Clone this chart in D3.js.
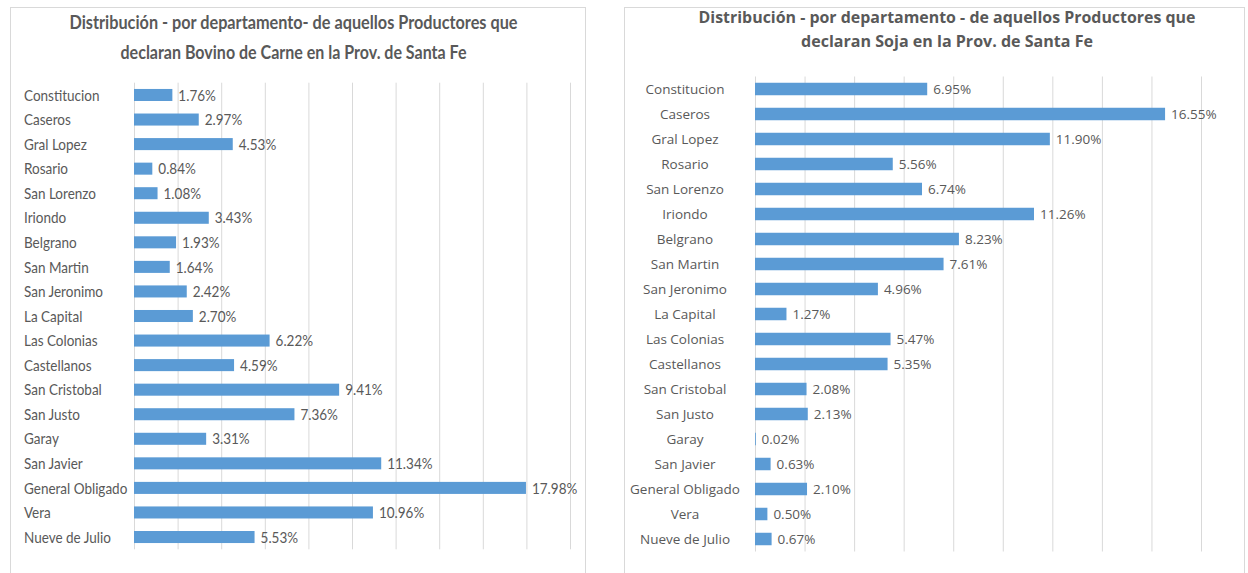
<!DOCTYPE html>
<html><head><meta charset="utf-8">
<script src="https://cdn.jsdelivr.net/npm/d3@7"></script>
<style>body{margin:0;background:#fff}svg{display:block}</style>
</head><body>
<svg id="c" width="1248" height="573"></svg>
<script>
const departamentos = ["Constitucion","Caseros","Gral Lopez","Rosario","San Lorenzo","Iriondo","Belgrano","San Martin","San Jeronimo","La Capital","Las Colonias","Castellanos","San Cristobal","San Justo","Garay","San Javier","General Obligado","Vera","Nueve de Julio"];
const bovinoCarne = [1.76,2.97,4.53,0.84,1.08,3.43,1.93,1.64,2.42,2.70,6.22,4.59,9.41,7.36,3.31,11.34,17.98,10.96,5.53];
const soja = [6.95,16.55,11.90,5.56,6.74,11.26,8.23,7.61,4.96,1.27,5.47,5.35,2.08,2.13,0.02,0.63,2.10,0.50,0.67];
const ticksBovino = [0,2,4,6,8,10,12,14,16,18,20];
const ticksSoja = [0,2,4,6,8,10,12,14,16,18];
const titleBovino = ["Distribución - por departamento- de aquellos Productores que","declaran Bovino de Carne en la Prov. de Santa Fe"];
const titleSoja = ["Distribución - por departamento - de aquellos Productores que","declaran Soja en la Prov. de Santa Fe"];

const svg = d3.select("#c");
const BLUE = "#5b9bd5", GRID = "#d9d9d9", TXT = "#595959";

function chart(cfg){
  const g = svg.append("g");
  g.append("rect").attr("x",cfg.panel[0]).attr("y",cfg.panel[1]).attr("width",cfg.panel[2]).attr("height",cfg.panel[3])
    .attr("fill","#fff").attr("stroke","#d9d9d9").attr("stroke-width",1);
  const x = d3.scaleLinear().domain([0, d3.max(cfg.ticks)]).range([cfg.x0, cfg.x1]);
  const y = d3.scaleBand().domain(cfg.cats).range([cfg.y0, cfg.y1]).paddingInner(cfg.pad).paddingOuter(cfg.pad/2);
  const ax = g.append("g").attr("transform",`translate(0,${cfg.y1})`)
    .call(d3.axisBottom(x).tickValues(cfg.ticks).tickSize(-(cfg.y1-cfg.y0)).tickFormat(""));
  ax.select(".domain").remove();
  ax.selectAll(".tick line").attr("stroke",GRID).attr("stroke-width",1);
  g.selectAll("rect.bar").data(cfg.vals).join("rect").attr("class","bar")
    .attr("x",x(0)).attr("y",(d,i)=>y(cfg.cats[i])).attr("height",y.bandwidth())
    .attr("width",d=>Math.max(0.8,x(d)-x(0))).attr("fill",BLUE);
  const sy = cfg.sy;
  g.selectAll("text.cat").data(cfg.cats).join("text").attr("class","cat")
    .attr("transform",d=>`translate(${cfg.labX},${y(d)+y.bandwidth()/2}) scale(1,${sy})`)
    .attr("dy","0.35em").attr("text-anchor",cfg.labAnchor)
    .style("font-family",cfg.font).style("font-size",cfg.fs+"px").attr("fill",TXT).text(d=>d);
  g.selectAll("text.val").data(cfg.vals).join("text").attr("class","val")
    .attr("transform",(d,i)=>`translate(${x(d)+cfg.gap},${y(cfg.cats[i])+y.bandwidth()/2}) scale(1,${sy})`)
    .attr("dy","0.35em")
    .style("font-family",cfg.font).style("font-size",cfg.fs+"px").attr("fill",TXT).text(d=>d.toFixed(2)+"%");
  cfg.title.forEach((t,i)=>{
    g.append("text").attr("transform",`translate(${cfg.tx},${cfg.ty[i]}) scale(1,${cfg.tsy})`)
      .attr("text-anchor","middle").style("font-family",cfg.font).style("font-weight","bold")
      .style("font-size",cfg.tfs+"px").attr("fill",TXT)
      .attr("textLength",cfg.tw[i]).attr("lengthAdjust","spacingAndGlyphs").text(t);
  });
}

chart({cats:departamentos, vals:bovinoCarne, ticks:ticksBovino, title:titleBovino,
  panel:[10.5,7.5,575,580], x0:134, x1:570, y0:82.7, y1:549.3, pad:0.51,
  labX:24, labAnchor:"start", font:"Lato", fs:13.5, sy:1.2, gap:6,
  tx:293.5, ty:[29,59], tfs:15.5, tsy:1.25, tw:[448,346]});

chart({cats:departamentos, vals:soja, ticks:ticksSoja, title:titleSoja,
  panel:[624.5,7.5,620,580], x0:755, x1:1201, y0:76.5, y1:551.5, pad:0.5,
  labX:685, labAnchor:"middle", font:"Open Sans", fs:13.5, sy:1.0, gap:6,
  tx:947, ty:[23,47], tfs:15, tsy:1.05, tw:[497,292]});
</script>
</body></html>
